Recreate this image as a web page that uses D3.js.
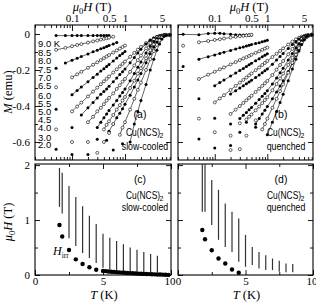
<!DOCTYPE html>
<html>
<head>
<meta charset="utf-8">
<script src="https://cdn.jsdelivr.net/npm/d3@7"></script>
<style>
  body { margin: 0; background: #fff; }
  svg { display: block; }
</style>
</head>
<body>
<script>
// field grid (T) on which M was recorded
const fields = [0.025, 0.05, 0.075, 0.1, 0.125, 0.15, 0.2, 0.25, 0.3, 0.35, 0.4, 0.45, 0.5,
  0.6, 0.7, 0.8, 0.9, 1, 1.25, 1.5, 1.75, 2, 2.5, 3, 3.5, 4, 4.5, 5, 5.5, 6, 7];
const temps = ["9.0 K", "8.5", "8.0", "7.5", "7.0", "6.5", "6.0", "5.5", "5.0", "4.5", "4.0", "3.0", "2.0"];

// (a) slow-cooled: first field of the reversible run, then M (emu) along the grid
const slowStart = [0.05, 0.05, 0.075, 0.1, 0.1, 0.1, 0.15, 0.2, 0.3, 0.4, 0.5, 0.8, 1.25];
const slowRev = [
  [-.009, -.009, -.009, -.009, -.009, -.009, -.009, -.008, -.008, -.008, -.008, -.008],
  [-.088, -.077, -.068, -.061, -.056, -.048, -.041, -.036, -.031, -.027, -.024, -.020, -.015],
  [-.161, -.146, -.135, -.125, -.111, -.099, -.090, -.082, -.076, -.070, -.064, -.055, -.047],
  [-.241, -.224, -.210, -.188, -.171, -.157, -.145, -.134, -.125, -.117, -.103, -.091, -.081, -.072, -.064],
  [-.337, -.314, -.295, -.265, -.241, -.223, -.206, -.193, -.180, -.169, -.150, -.134, -.120, -.108, -.097],
  [-.430, -.403, -.381, -.347, -.320, -.298, -.279, -.263, -.249, -.236, -.214, -.196, -.180, -.166, -.153,
    -.127, -.105, -.087, -.072, -.050, -.035, -.025, -.018, -.013, -.010, -.008, -.007, -.006],
  [-.45, -.41, -.38, -.355, -.335, -.32, -.305, -.29, -.265, -.245, -.225, -.21, -.195,
    -.16, -.13, -.105, -.085, -.055, -.035, -.022, -.014, -.01, -.008, -.006, -.005, -.005],
  [-.49, -.46, -.43, -.41, -.39, -.37, -.355, -.33, -.305, -.285, -.265, -.25,
    -.21, -.175, -.145, -.12, -.08, -.05, -.03, -.018, -.011, -.008, -.006, -.005, -.005],
  [-.52, -.49, -.465, -.445, -.425, -.395, -.37, -.345, -.325, -.305,
    -.26, -.22, -.185, -.155, -.105, -.068, -.042, -.025, -.014, -.009, -.006, -.005, -.005],
  [-.53, -.505, -.485, -.45, -.42, -.395, -.37, -.35,
    -.30, -.26, -.22, -.19, -.135, -.09, -.058, -.035, -.02, -.011, -.007, -.005, -.005],
  [-.54, -.50, -.465, -.44, -.415, -.39,
    -.34, -.295, -.255, -.22, -.16, -.11, -.072, -.045, -.026, -.014, -.008, -.006, -.005],
  [-.56, -.52, -.49, -.42, -.36, -.31, -.27, -.20, -.14, -.095, -.06, -.035, -.018, -.01, -.006, -.005],
  [-.60, -.50, -.43, -.37, -.28, -.20, -.14, -.09, -.055, -.028, -.013, -.007, -.005]
];
// irreversible low-field points [H, M]
const slowIrr = [
  [], [],
  [[0.05, -.19]],
  [[0.05, -.296]],
  [[0.05, -.418]],
  [[0.05, -.53]],
  [[0.05, -.64], [0.1, -.52]],
  [[0.1, -.60]],
  [[0.1, -.67], [0.2, -.67]],
  [[0.2, -.60], [0.3, -.66]],
  [[0.3, -.585], [0.45, -.59]],
  [[0.4, -.60], [0.5, -.55], [0.6, -.50]],
  [[0.6, -.645], [0.9, -.61]]
];

// (b) quenched
const quenchStart = [0.025, 0.05, 0.05, 0.05, 0.1, 0.1, 0.2, 0.2, 0.3, 0.4, 0.6, 0.8, 1];
const quenchRev = [
  [-.002, -.004, .003, .004, .004, .002, -.001, -.004, -.005, -.005, -.005, -.005, -.005],
  [-.046, -.039, -.033, -.029, -.025, -.020, -.016, -.012, -.010, -.008, -.006, -.004],
  [-.140, -.126, -.116, -.108, -.101, -.091, -.084, -.077, -.072, -.067, -.063, -.059, -.053, -.048, -.043, -.039, -.035],
  [-.250, -.226, -.210, -.196, -.186, -.169, -.156, -.145, -.136, -.129, -.122, -.115, -.105, -.096, -.088, -.081, -.075],
  [-.287, -.270, -.256, -.234, -.217, -.203, -.191, -.180, -.171, -.163, -.149, -.137, -.127, -.118, -.110],
  [-.380, -.358, -.340, -.311, -.288, -.270, -.255, -.242, -.230, -.219, -.201, -.186, -.172, -.161, -.150,
    -.128, -.110, -.094, -.080, -.058, -.042, -.030, -.021, -.015, -.011, -.008, -.006, -.005],
  [-.333, -.315, -.30, -.287, -.276, -.266, -.257, -.242, -.228, -.215, -.204, -.194,
    -.168, -.145, -.125, -.108, -.08, -.058, -.041, -.028, -.019, -.013, -.009, -.007, -.005],
  [-.444, -.42, -.40, -.383, -.368, -.355, -.343, -.322, -.304, -.288, -.274, -.261,
    -.228, -.198, -.172, -.15, -.113, -.083, -.06, -.042, -.028, -.018, -.012, -.008, -.005],
  [-.47, -.452, -.436, -.421, -.408, -.385, -.364, -.346, -.33, -.315,
    -.278, -.245, -.215, -.19, -.145, -.108, -.078, -.055, -.037, -.024, -.015, -.01, -.006],
  [-.475, -.46, -.447, -.424, -.403, -.384, -.367, -.352,
    -.313, -.278, -.247, -.22, -.172, -.132, -.098, -.07, -.048, -.031, -.019, -.012, -.006],
  [-.50, -.47, -.445, -.423, -.403,
    -.36, -.322, -.289, -.26, -.208, -.163, -.12, -.085, -.055, -.032, -.017, -.009, -.004],
  [-.53, -.50, -.47, -.41, -.36, -.318, -.28, -.215, -.16, -.115, -.078, -.048, -.026, -.012, -.006, -.003],
  [-.56, -.49, -.43, -.38, -.335, -.26, -.195, -.14, -.095, -.058, -.03, -.014, -.007, -.003]
];
const quenchIrr = [
  [],
  [[0.025, -.065]],
  [[0.025, -.18]],
  [],
  [[0.05, -.36]],
  [[0.05, -.47]],
  [[0.05, -.583], [0.1, -.468]],
  [[0.1, -.546]],
  [[0.1, -.633], [0.2, -.50]],
  [[0.2, -.565], [0.3, -.496]],
  [[0.2, -.62], [0.3, -.546], [0.4, -.49]],
  [[0.2, -.645], [0.3, -.64], [0.4, -.565], [0.6, -.48]],
  [[0.6, -.518]]
];

// (c) slow-cooled: field range bars and H_irr
const slowBarT = [1.8, 2.0, 2.5, 3.0, 3.5, 4.0, 4.5, 5.0, 5.5, 6.0, 6.5, 7.0, 7.5, 8.0, 8.5, 9.0];
const slowBarLo = [1.24, 1.12, 0.67, 0.53, 0.40, 0.31, 0.22, 0.13, 0.10, 0.08, 0.07, 0.06, 0.055, 0.05, 0.05, 0.05];
const slowBarHi = [1.95, 1.86, 1.62, 1.42, 1.25, 1.08, 0.93, 0.75, 0.68, 0.62, 0.56, 0.50, 0.46, 0.42, 0.38, 0.35];
const slowHirrT = [1.8, 2.0, 2.5, 3.0, 3.5, 4.0, 4.5, 5.0, 5.2, 5.4, 5.6, 5.8, 6.0, 6.2, 6.4, 6.6, 6.8, 7.0,
  7.2, 7.4, 7.6, 7.8, 8.0, 8.2, 8.4, 8.6, 8.8, 9.0, 9.2, 9.4, 9.6, 9.8];
const slowHirr = [0.91, 0.70, 0.455, 0.285, 0.20, 0.14, 0.095, 0.075, 0.07, 0.065, 0.06, 0.056, 0.052, 0.048,
  0.044, 0.04, 0.037, 0.034, 0.031, 0.028, 0.025, 0.022, 0.02, 0.018, 0.016, 0.014, 0.012, 0.01, 0.008,
  0.006, 0.004, 0.002];

// (d) quenched
const quenchBarT = [1.8, 2.0, 2.5, 3.0, 3.5, 4.0, 4.5, 5.0, 5.5, 6.0, 6.5, 7.0, 7.5, 8.0, 8.5];
const quenchBarLo = [1.15, 1.15, 0.91, 0.64, 0.51, 0.42, 0.24, 0.15, 0.18, 0.12, 0.09, 0.09, 0.06, 0.05, 0.05];
const quenchBarHi = [2.02, 2.02, 1.73, 1.55, 1.30, 1.15, 1.03, 0.73, 0.51, 0.42, 0.36, 0.30, 0.26, 0.21, 0.20];
const quenchHirrT = [1.8, 2.0, 2.5, 3.0, 3.5, 4.0, 4.5];
const quenchHirr = [0.82, 0.65, 0.45, 0.30, 0.21, 0.10, 0.04];

const serif = "'Liberation Serif', 'DejaVu Serif', serif";
const sans = "'Liberation Sans', Arial, sans-serif";

const svg = d3.select("body").append("svg")
  .attr("width", 316).attr("height", 302)
  .style("font-family", serif);

const yM = d3.scaleLinear().domain([-0.7, 0.05]).range([160, 25]);
const yH = d3.scaleLinear().domain([0, 2.02]).range([275, 164]);

const logMinor = [0.02, 0.03, 0.04, 0.05, 0.06, 0.07, 0.08, 0.09, 0.2, 0.3, 0.4, 0.5, 0.6, 0.7, 0.8, 0.9, 2, 3, 4, 5, 6, 7];

function frame(x0, y0, x1, y1) {
  svg.append("rect")
    .attr("x", x0).attr("y", y0).attr("width", x1 - x0).attr("height", y1 - y0)
    .attr("fill", "none").attr("stroke", "#000").attr("stroke-width", 1.1);
}

function clean(g) {
  g.select(".domain").remove();
  g.selectAll("line").attr("stroke", "#000").attr("stroke-width", 0.9);
  g.selectAll("text").attr("font-family", serif).attr("font-size", 11).attr("fill", "#000");
}

function mu0H(sel, x, y, anchor) {
  const t = sel.append("text").attr("x", x).attr("y", y)
    .attr("text-anchor", anchor || "middle").attr("font-size", 12.5);
  t.append("tspan").attr("font-style", "italic").text("μ");
  t.append("tspan").attr("font-size", 8.5).attr("dy", 3).text("0");
  t.append("tspan").attr("font-style", "italic").attr("dy", -3).text("H");
  t.append("tspan").text(" (T)");
  return t;
}

// sample notes: "(a)", "Cu(NCS)2", "slow-cooled", narrowed to the printed widths
function notes(cx, yTag, yCu, yKind, tag, kind) {
  const lab = svg.append("g").attr("font-family", sans).attr("font-size", 10.5).attr("fill", "#000");
  lab.append("text").attr("x", cx - 5).attr("y", yTag).attr("text-anchor", "middle").text(tag);
  lab.append("g").attr("transform", `translate(${cx - 19},${yCu}) scale(0.8,1)`)
    .append("text").text("Cu(NCS)");
  lab.append("text").attr("x", cx + 14.5).attr("y", yCu + 2).attr("font-size", 7).text("2");
  lab.append("g").attr("transform", `translate(${cx},${yKind}) scale(0.84,1)`)
    .append("text").attr("text-anchor", "middle").text(kind);
}

function topPanel(x0, x1, start, rev, irr, leftLabels, titleX) {
  const x = d3.scaleLog().domain([0.02, 7.4]).range([x0, x1]);

  // log ticks, top and bottom, pointing inward
  for (const [y, axis] of [[25, d3.axisTop], [160, d3.axisBottom]]) {
    svg.append("g").attr("transform", `translate(0,${y})`)
      .call(axis(x).tickValues(logMinor).tickSize(-3).tickFormat(""))
      .call(clean);
    svg.append("g").attr("transform", `translate(0,${y})`)
      .call(axis(x).tickValues([0.1, 1]).tickSize(-6).tickFormat(""))
      .call(clean);
  }
  svg.append("g").attr("transform", "translate(0,25)")
    .call(d3.axisTop(x).tickValues([0.1, 0.5, 1, 5]).tickSize(0).tickPadding(3).tickFormat(d => String(d)))
    .call(clean);

  // M ticks on both sides
  const mMajor = [0, -0.2, -0.4, -0.6], mMinor = [-0.1, -0.3, -0.5];
  svg.append("g").attr("transform", `translate(${x0},0)`)
    .call(d3.axisLeft(yM).tickValues(mMajor).tickSize(-5)
      .tickFormat(leftLabels ? (d => d === 0 ? "0" : String(d)) : ""))
    .call(clean)
    .call(g => g.selectAll("text").attr("x", -5));
  svg.append("g").attr("transform", `translate(${x0},0)`)
    .call(d3.axisLeft(yM).tickValues(mMinor).tickSize(-3).tickFormat("")).call(clean);
  svg.append("g").attr("transform", `translate(${x1},0)`)
    .call(d3.axisRight(yM).tickValues(mMajor).tickSize(-5).tickFormat("")).call(clean);
  svg.append("g").attr("transform", `translate(${x1},0)`)
    .call(d3.axisRight(yM).tickValues(mMinor).tickSize(-3).tickFormat("")).call(clean);

  frame(x0, 25, x1, 160);

  const line = d3.line().x(d => x(d[0])).y(d => yM(d[1]));
  const plot = svg.append("g");

  rev.forEach((row, i) => {
    const k0 = fields.indexOf(start[i]);
    const pts = row.map((m, k) => [fields[k0 + k], m]);
    plot.append("path").datum(pts).attr("d", line)
      .attr("fill", "none").attr("stroke", "#222").attr("stroke-width", 0.7);
  });
  rev.forEach((row, i) => {
    const k0 = fields.indexOf(start[i]);
    const pts = row.map((m, k) => [fields[k0 + k], m]).concat(irr[i]);
    const full = i % 2 === 0;
    plot.append("g").selectAll("circle").data(pts).join("circle")
      .attr("cx", d => x(d[0])).attr("cy", d => yM(d[1]))
      .attr("r", 1.5)
      .attr("fill", full ? "#000" : "#fff")
      .attr("stroke", "#000").attr("stroke-width", full ? 0 : 0.6);
  });

  mu0H(svg, titleX, 11);
}

function bottomPanel(x0, x1, barT, lo, hi, hT, hV, leftLabels) {
  const x = d3.scaleLinear().domain([0, 10]).range([x0, x1]);

  for (const [y, axis] of [[164, d3.axisTop], [275, d3.axisBottom]]) {
    svg.append("g").attr("transform", `translate(0,${y})`)
      .call(axis(x).tickValues([0, 5, 10]).tickSize(-5).tickFormat(""))
      .call(clean);
    svg.append("g").attr("transform", `translate(0,${y})`)
      .call(axis(x).tickValues([2.5, 7.5]).tickSize(-3).tickFormat(""))
      .call(clean);
  }
  svg.append("g").attr("transform", "translate(0,275)")
    .call(d3.axisBottom(x).tickValues([0, 5, 10]).tickSize(0).tickPadding(2).tickFormat(d => String(d)))
    .call(clean)
    .call(g => g.selectAll("text").filter(d => d === 10).attr("text-anchor", "end").attr("dx", 4));

  svg.append("g").attr("transform", `translate(${x0},0)`)
    .call(d3.axisLeft(yH).tickValues([0, 1, 2]).tickSize(-5).tickFormat(leftLabels ? (d => String(d)) : ""))
    .call(clean)
    .call(g => g.selectAll("text").attr("x", -5));
  svg.append("g").attr("transform", `translate(${x0},0)`)
    .call(d3.axisLeft(yH).tickValues([0.5, 1.5]).tickSize(-3).tickFormat("")).call(clean);
  svg.append("g").attr("transform", `translate(${x1},0)`)
    .call(d3.axisRight(yH).tickValues([0, 1, 2]).tickSize(-5).tickFormat("")).call(clean);
  svg.append("g").attr("transform", `translate(${x1},0)`)
    .call(d3.axisRight(yH).tickValues([0.5, 1.5]).tickSize(-3).tickFormat("")).call(clean);

  frame(x0, 164, x1, 275);

  svg.append("g").selectAll("line").data(barT).join("line")
    .attr("x1", d => x(d)).attr("x2", d => x(d))
    .attr("y1", (d, i) => yH(Math.min(hi[i], 2.02))).attr("y2", (d, i) => yH(lo[i]))
    .attr("stroke", "#333").attr("stroke-width", 1.2);

  svg.append("g").selectAll("circle").data(hT).join("circle")
    .attr("cx", d => x(d)).attr("cy", (d, i) => yH(hV[i]))
    .attr("r", 2.2).attr("fill", "#000");

  const t = svg.append("text").attr("x", (x0 + x1) / 2 + 1).attr("y", 299)
    .attr("text-anchor", "middle").attr("font-size", 12.5);
  t.append("tspan").attr("font-style", "italic").text("T");
  t.append("tspan").text(" (K)");
}

topPanel(35, 171, slowStart, slowRev, slowIrr, true, 92);
topPanel(178, 313, quenchStart, quenchRev, quenchIrr, false, 249);
bottomPanel(35, 171, slowBarT, slowBarLo, slowBarHi, slowHirrT, slowHirr, true);
bottomPanel(178, 313, quenchBarT, quenchBarLo, quenchBarHi, quenchHirrT, quenchHirr, false);

notes(145, 118, 136, 149.5, "(a)", "slow-cooled");
notes(286, 118, 136, 149.5, "(b)", "quenched");
notes(145, 183, 198.5, 211, "(c)", "slow-cooled");
notes(286, 183, 198.5, 211, "(d)", "quenched");

// temperature labels down the left of (a)
const tempY = [43, 52, 60, 69, 77, 85, 95, 103, 111, 119, 127, 137, 144];
svg.append("g").attr("font-family", sans).attr("font-size", 9.5).attr("fill", "#000")
  .selectAll("text").data(temps).join("text")
  .attr("x", 38).attr("y", (d, i) => tempY[i] + 3.5)
  .text(d => d);

// y-axis titles
const mt = svg.append("text").attr("transform", "translate(12,92) rotate(-90)")
  .attr("text-anchor", "middle").attr("font-size", 12.5);
mt.append("tspan").attr("font-style", "italic").text("M");
mt.append("tspan").text(" (emu)");
mu0H(svg.append("g").attr("transform", "translate(12,222) rotate(-90)"), 0, 0);

// H_irr tag in (c)
const hi = svg.append("text").attr("x", 53).attr("y", 255).attr("font-size", 12);
hi.append("tspan").attr("font-style", "italic").text("H");
hi.append("tspan").attr("font-size", 7.5).attr("dy", 2.5).text("irr");
</script>
</body>
</html>
